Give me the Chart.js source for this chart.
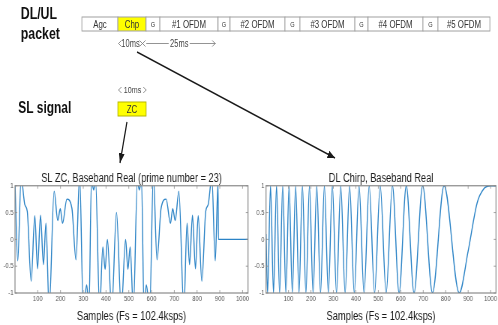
<!DOCTYPE html>
<html>
<head>
<meta charset="utf-8">
<script src="https://cdn.jsdelivr.net/npm/chart.js@4.4.1/dist/chart.umd.min.js"></script>
<style>
  html, body { margin: 0; padding: 0; background: #fff; overflow: hidden; }
  body { width: 498px; height: 325px; position: relative; }
  /* the reference is squeezed sideways, so everything is laid out wide and scaled */
  #page { position: absolute; left: 0; top: 0; width: 664px; height: 325px;
          transform: scaleX(0.75); transform-origin: 0 0; }
  #page canvas { position: absolute; }
  #zcChart { left: 0; top: 168px; }
  #chirpChart { left: 335px; top: 168px; }
  #diagram { position: absolute; left: 0; top: 0; pointer-events: none; }
</style>
</head>
<body>
<div id="page">
  <canvas id="zcChart" width="345" height="157"></canvas>
  <canvas id="chirpChart" width="340" height="157"></canvas>
  <svg id="diagram" width="664" height="325"></svg>
</div>
<script>
  // SL ZC real part (sample, value); peaks past +-1 are clipped by the axes
  var zcSamples = [0, 12, 27, 43, 54, 71, 87, 99, 112, 125, 136, 150, 172, 188, 199,
    209, 228, 250, 268, 284, 300, 315, 325, 336, 346, 354, 372, 386, 396, 406,
    425, 446, 467, 486, 496, 506, 520, 538, 546, 556, 567, 577, 592, 608, 624,
    642, 664, 683, 693, 704, 720, 742, 756, 767, 780, 793, 805, 821, 838, 849,
    865, 880, 892, 894, 1024];
  var zcValues = [1.05, -0.4, 1.15, 0.65, 0.52, -0.78, 0.44, -0.55, 0.45, -0.47, 0.3, -1.3, 0.9, 0.35, 0.57,
    0.3, 0.75, 0.58, -0.38, 1.2, -1.3, -0.85, -1.3, 1.1, 0.92, 1.1, -1.3, -0.14, -0.56, 0.0,
    -1.3, 0.5, -1.3, 0.0, -0.56, -0.14, -1.3, 1.1, 0.92, 1.1, -1.3, -0.85, -1.3, 1.2, -0.38,
    0.58, 0.75, 0.3, 0.57, 0.35, 0.9, -1.3, 0.3, -0.47, 0.45, -0.55, 0.44, -0.78, 0.52, 0.65,
    1.15, -0.4, 1.05, 0, 0];

  // DL chirp real part: turning points
  var chirpSamples = [0, 6.9, 20.1, 33.3, 46.8, 60.5, 74.3, 88.4, 102.6, 117.1, 131.9,
    146.8, 162.1, 177.6, 193.4, 209.5, 225.9, 242.7, 259.9, 277.4, 295.4,
    313.8, 332.7, 352.2, 372.2, 392.9, 414.2, 436.4, 459.4, 483.4, 508.5,
    534.9, 562.8, 592.5, 624.5, 659.2, 697.6, 741.2, 792.9, 860.3,
    900, 940, 970, 1000, 1024];
  var chirpValues = [0.1, -1, 1, -1, 1, -1, 1, -1, 1, -1, 1,
    -1, 1, -1, 1, -1, 1, -1, 1, -1, 1,
    -1, 1, -1, 1, -1, 1, -1, 1, -1, 1,
    -1, 1, -1, 1, -1, 1, -1, 1, -1,
    -0.22, 0.68, 0.945, 1, 1];

  var xTicks = [100, 200, 300, 400, 500, 600, 700, 800, 900, 1000];
  var xTickLabels = ['100', '200', '300', '400', '500', '600', '700', '800', '900', '1000'];
  var yTicks = [-1, -0.5, 0, 0.5, 1];
  var yTickLabels = ['-1', '-0.5', '0', '0.5', '1'];

  var xTitle = 'Samples (Fs = 102.4ksps)';
  var zcTitle = 'SL ZC, Baseband Real (prime number = 23)';
  var chirpTitle = 'DL Chirp, Baseband Real';

  var FONT = "'Liberation Sans', Arial, sans-serif";
  var LINE = '#2b83c6';

  // matlab style box with small inward ticks
  var frame = {
    id: 'frame',
    afterDatasetsDraw: function (chart) {
      var ctx = chart.ctx, a = chart.chartArea, x = chart.scales.x, y = chart.scales.y;
      ctx.save();
      ctx.strokeStyle = '#8a8a8a';
      ctx.lineWidth = 1.2;
      ctx.strokeRect(a.left, a.top, a.right - a.left, a.bottom - a.top);
      ctx.lineWidth = 0.8;
      ctx.beginPath();
      x.ticks.forEach(function (t) {
        var px = x.getPixelForValue(t.value);
        ctx.moveTo(px, a.bottom); ctx.lineTo(px, a.bottom - 3);
        ctx.moveTo(px, a.top); ctx.lineTo(px, a.top + 3);
      });
      y.ticks.forEach(function (t) {
        var py = y.getPixelForValue(t.value);
        ctx.moveTo(a.left, py); ctx.lineTo(a.left + 3, py);
        ctx.moveTo(a.right, py); ctx.lineTo(a.right - 3, py);
      });
      ctx.stroke();
      ctx.restore();
    }
  };

  function makeChart(id, title, samples, values, yAxisWidth, rightPad) {
    var points = samples.map(function (s, i) { return { x: s, y: values[i] }; });
    return new Chart(document.getElementById(id), {
      type: 'line',
      data: {
        datasets: [{
          data: points,
          borderColor: LINE,
          borderWidth: 1.4,
          pointRadius: 0,
          cubicInterpolationMode: 'monotone',
          fill: false
        }]
      },
      options: {
        responsive: false,
        animation: false,
        layout: { padding: { left: 0, right: rightPad, top: 0, bottom: 0 } },
        plugins: {
          legend: { display: false },
          tooltip: { enabled: false },
          title: {
            display: true,
            text: title,
            fullSize: false,
            color: '#1a1a1a',
            font: { family: FONT, size: 12.3, weight: 'normal' },
            padding: { top: 3, bottom: 0 }
          }
        },
        scales: {
          x: {
            type: 'linear',
            min: 0,
            max: 1024,
            grid: { display: false, drawTicks: false },
            border: { display: false },
            afterBuildTicks: function (s) { s.ticks = xTicks.map(function (v) { return { value: v }; }); },
            afterFit: function (s) { s.height = 32; },
            ticks: {
              autoSkip: false,
              maxRotation: 0,
              padding: 1.5,
              color: '#555',
              font: { family: FONT, size: 7.8 },
              callback: function (v, i) { return xTickLabels[i]; }
            },
            title: {
              display: true,
              text: xTitle,
              color: '#1a1a1a',
              font: { family: FONT, size: 12.5 },
              padding: { top: 0, bottom: 1.3 }
            }
          },
          y: {
            type: 'linear',
            min: -1,
            max: 1,
            grid: { display: false, drawTicks: false },
            border: { display: false },
            afterBuildTicks: function (s) { s.ticks = yTicks.map(function (v) { return { value: v }; }); },
            afterFit: function (s) { s.width = yAxisWidth; },
            ticks: {
              padding: 2,
              color: '#555',
              font: { family: FONT, size: 7.8 },
              callback: function (v, i) { return yTickLabels[i]; }
            }
          }
        }
      },
      plugins: [frame]
    });
  }

  makeChart('zcChart', zcTitle, zcSamples, zcValues, 20, 14.3);
  makeChart('chirpChart', chirpTitle, chirpSamples, chirpValues, 19.7, 13.7);

  // packet / signal sketch above the plots
  var packet = [['Agc', 48], ['Chp', 37.4], ['G', 18.6], ['#1 OFDM', 77.4], ['G', 16],
    ['#2 OFDM', 73.3], ['G', 20], ['#3 OFDM', 73.3], ['G', 17.4], ['#4 OFDM', 73.3],
    ['G', 20], ['#5 OFDM', 69.3]];

  var svg = '<defs><marker id="ah" viewBox="0 0 10 8" refX="10" refY="4" markerWidth="10" markerHeight="8" ' +
    'markerUnits="userSpaceOnUse" orient="auto"><path d="M0,0 L10,4 L0,8 z" fill="#1a1a1a"/></marker></defs>';
  svg += '<g font-family="' + FONT.replace(/"/g, '') + '">';
  svg += '<text x="27.6" y="19" font-size="16.5" font-weight="bold" fill="#111">DL/UL</text>';
  svg += '<text x="27.6" y="39.5" font-size="16.5" font-weight="bold" fill="#111">packet</text>';
  svg += '<text x="24.4" y="113.5" font-size="16" font-weight="bold" fill="#111">SL signal</text>';

  var bx = 109.3;
  packet.forEach(function (p) {
    var fillC = p[0] === 'Chp' ? '#ffff00' : '#fff';
    svg += '<rect x="' + bx + '" y="17" width="' + p[1] + '" height="14" fill="' + fillC + '" stroke="#a0a0a0" stroke-width="1"/>';
    var small = p[0] === 'G';
    svg += '<text x="' + (bx + p[1] / 2) + '" y="' + (small ? 27 : 27.6) + '" text-anchor="middle" font-size="' +
      (small ? 7.5 : 10.5) + '" fill="#333">' + p[0] + '</text>';
    bx += p[1];
  });

  // 10ms / 25ms spans under the packet
  svg += '<g stroke="#666" stroke-width="0.8" fill="none">' +
    '<path d="M162,40.5 L158,43.5 L162,46.5"/>' +
    '<path d="M186,40.5 L190,43.5 L186,46.5 M194,40.5 L190,43.5 L194,46.5"/>' +
    '<path d="M195,43.5 L225,43.5 M253,43.5 L287,43.5 M283,40.5 L287,43.5 L283,46.5"/>' +
    '<path d="M162,87 L158,90 L162,93 M191,87 L195,90 L191,93"/></g>';
  svg += '<text x="174" y="47" text-anchor="middle" font-size="10" fill="#444">10ms</text>';
  svg += '<text x="239" y="47" text-anchor="middle" font-size="10" fill="#444">25ms</text>';
  svg += '<text x="176.7" y="93.3" text-anchor="middle" font-size="9.5" fill="#444">10ms</text>';

  svg += '<rect x="157.3" y="102" width="37.4" height="14" fill="#ffff00" stroke="#b5b500" stroke-width="1"/>';
  svg += '<text x="176" y="112.7" text-anchor="middle" font-size="10.5" fill="#333">ZC</text>';

  // pointers down to the two plots
  svg += '<line x1="182.7" y1="52" x2="446.7" y2="158" stroke="#1a1a1a" stroke-width="1.6" marker-end="url(#ah)"/>';
  svg += '<line x1="169.3" y1="122" x2="160" y2="163" stroke="#1a1a1a" stroke-width="1.6" marker-end="url(#ah)"/>';
  svg += '</g>';
  document.getElementById('diagram').innerHTML = svg;
</script>
</body>
</html>
